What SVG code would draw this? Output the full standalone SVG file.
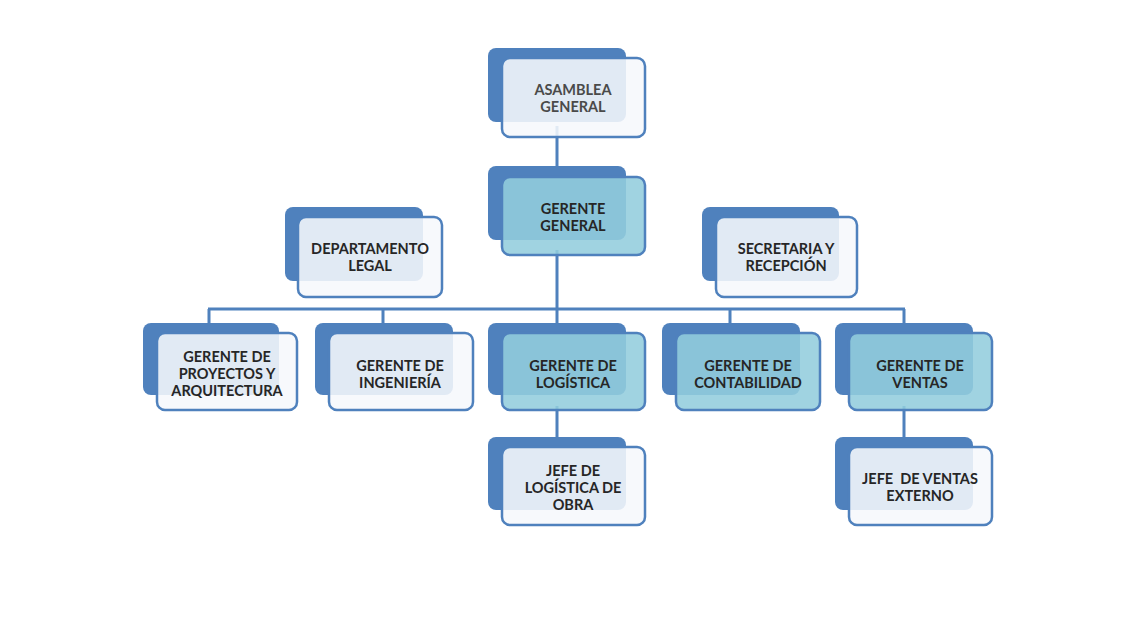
<svg xmlns="http://www.w3.org/2000/svg" width="1133" height="624" viewBox="0 0 1133 624">
<style>
.back{fill:#4f81bd;}
.front{fill:#f6f8fc;fill-opacity:0.88;stroke:#4f81bd;stroke-width:2.5;}
.front.blue{fill:#93cddd;fill-opacity:0.88;}
.conn{stroke:#4f81bd;stroke-width:3;fill:none;}
.t{font-family:Lato,"Liberation Sans",sans-serif;font-size:14.5px;font-weight:bold;fill:#262626;text-anchor:middle;}
.t.thin{fill:#4a4a4a;}
</style>
<rect width="1133" height="624" fill="#ffffff"/>
<g id="connectors">
<path class="conn" d="M557 126 V190"/>
<path class="conn" d="M557 250 V309"/>
<path class="conn" d="M208 309 H905"/>
<path class="conn" d="M209 309 V330 M383 309 V330 M557 309 V330 M730 309 V330 M904 309 V330"/>
<path class="conn" d="M557 406 V445 M904 406 V445"/>
</g>
<g id="asamblea">
<rect class="back" x="488" y="48" width="138" height="74" rx="8"/>
<rect class="front" x="502" y="58" width="143" height="79" rx="8"/>
<text class="t thin" x="573" y="95">ASAMBLEA</text>
<text class="t thin" x="573" y="112">GENERAL</text>
</g>
<g id="gerente-general">
<rect class="back" x="488" y="166" width="138" height="74" rx="8"/>
<rect class="front blue" x="502" y="177" width="143" height="78" rx="8"/>
<text class="t" x="573" y="214">GERENTE</text>
<text class="t" x="573" y="231">GENERAL</text>
</g>
<g id="departamento-legal">
<rect class="back" x="285" y="207" width="138" height="74" rx="8"/>
<rect class="front" x="298" y="217" width="144" height="80" rx="8"/>
<text class="t" x="370" y="254">DEPARTAMENTO</text>
<text class="t" x="370" y="271">LEGAL</text>
</g>
<g id="secretaria">
<rect class="back" x="702" y="207" width="137" height="74" rx="8"/>
<rect class="front" x="716" y="217" width="141" height="80" rx="8"/>
<text class="t" x="786" y="254">SECRETARIA Y</text>
<text class="t" x="786" y="271">RECEPCIÓN</text>
</g>
<g id="proyectos">
<rect class="back" x="143" y="323" width="136" height="72" rx="8"/>
<rect class="front" x="157" y="333" width="140" height="77" rx="8"/>
<text class="t" x="227" y="362">GERENTE DE</text>
<text class="t" x="227" y="379">PROYECTOS Y</text>
<text class="t" x="227" y="396">ARQUITECTURA</text>
</g>
<g id="ingenieria">
<rect class="back" x="315" y="323" width="138" height="72" rx="8"/>
<rect class="front" x="329" y="333" width="144" height="77" rx="8"/>
<text class="t" x="400" y="371">GERENTE DE</text>
<text class="t" x="400" y="388">INGENIERÍA</text>
</g>
<g id="logistica">
<rect class="back" x="488" y="323" width="138" height="72" rx="8"/>
<rect class="front blue" x="502" y="333" width="143" height="77" rx="8"/>
<text class="t" x="573" y="371">GERENTE DE</text>
<text class="t" x="573" y="388">LOGÍSTICA</text>
</g>
<g id="contabilidad">
<rect class="back" x="662" y="323" width="138" height="72" rx="8"/>
<rect class="front blue" x="676" y="333" width="144" height="77" rx="8"/>
<text class="t" x="748" y="371">GERENTE DE</text>
<text class="t" x="748" y="388">CONTABILIDAD</text>
</g>
<g id="ventas">
<rect class="back" x="835" y="323" width="138" height="72" rx="8"/>
<rect class="front blue" x="849" y="333" width="143" height="77" rx="8"/>
<text class="t" x="920" y="371">GERENTE DE</text>
<text class="t" x="920" y="388">VENTAS</text>
</g>
<g id="jefe-logistica-obra">
<rect class="back" x="488" y="437" width="138" height="73" rx="8"/>
<rect class="front" x="502" y="447" width="143" height="78" rx="8"/>
<text class="t" x="573" y="476">JEFE DE</text>
<text class="t" x="573" y="493">LOGÍSTICA DE</text>
<text class="t" x="573" y="510">OBRA</text>
</g>
<g id="jefe-ventas-externo">
<rect class="back" x="835" y="437" width="138" height="73" rx="8"/>
<rect class="front" x="849" y="447" width="143" height="78" rx="8"/>
<text class="t" x="920" y="484" xml:space="preserve">JEFE  DE VENTAS</text>
<text class="t" x="920" y="501">EXTERNO</text>
</g>
</svg>
